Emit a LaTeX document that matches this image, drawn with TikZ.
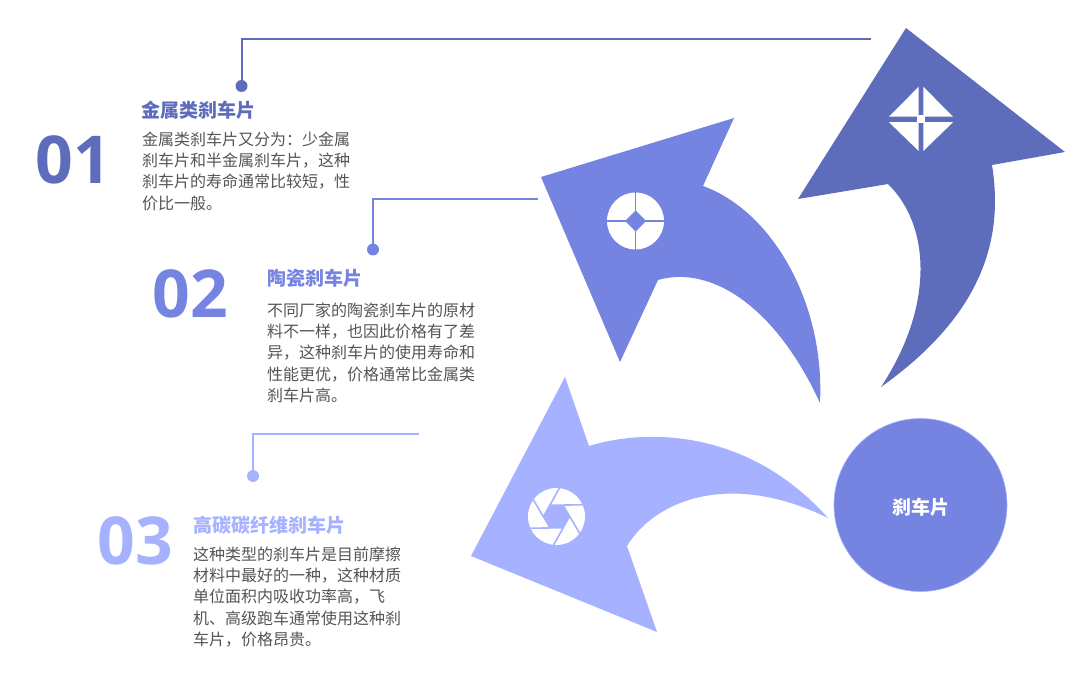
\documentclass[tikz,border=0pt]{standalone}
\usepackage{fontspec}
\setmainfont{Noto Sans CJK SC}
\newfontfamily\numfont{Open Sans}
\definecolor{cdark}{HTML}{5E6DBB}
\definecolor{cmid}{HTML}{7484E0}
\definecolor{clight}{HTML}{A6B2FF}
\definecolor{cbody}{HTML}{555555}
\tikzset{
  linkline/.style={line width=2pt},
  dotnode/.style={circle,inner sep=0pt,minimum size=12pt},
  numlabel/.style={anchor=center,inner sep=0pt,font=\numfont\bfseries\fontsize{66}{66}\selectfont},
  headlabel/.style={anchor=west,inner sep=0pt,font=\bfseries\fontsize{19}{22}\selectfont},
  bodytext/.style={anchor=north west,inner sep=0pt,align=left,text=cbody,font=\fontsize{16}{21.1}\selectfont},
}
\begin{document}
\begin{tikzpicture}[x=1pt,y=-1pt]
\useasboundingbox (0,0) rectangle (1084,676);
\fill[white] (0,0) rectangle (1084,676);
% arrows
\fill[cdark] (906,28) -- (1065,152) -- (992,165) .. controls (1004,240) and (982,315) .. (881,387)
  .. controls (935,305) and (930,225) .. (888,184) -- (798,199) -- cycle;
\fill[cmid] (734,118) -- (703,186) .. controls (770,210) and (825,300) .. (820,403)
  .. controls (775,305) and (710,265) .. (658,280) -- (620,362) -- (541,177) -- cycle;
\fill[clight] (565,377) -- (589,446) .. controls (640,430) and (745,425) .. (828,518)
  .. controls (730,470) and (655,500) .. (627,546) -- (657,632) -- (471,556) -- cycle;
% icon 1
\fill[white] (918.7,86.7) -- (889,116.7) -- (918.7,116.7) -- cycle;
\fill[white] (923.3,86.7) -- (953,116.7) -- (923.3,116.7) -- cycle;
\fill[white] (918.7,151) -- (889,122.2) -- (918.7,122.2) -- cycle;
\fill[white] (923.3,151) -- (953,122.2) -- (923.3,122.2) -- cycle;
\fill[white] (917,115.5) rectangle (925,122.7);
% icon 2
\fill[white] (635.5,221) circle (28.5);
\draw[cmid,line width=1.2pt] (635.5,190) -- (635.5,252) (604,221) -- (667,221);
\fill[cmid] (635.5,210.5) -- (646,221) -- (635.5,231.5) -- (625,221) -- cycle;
% icon 3
\fill[white] (556.5,516.5) circle (28.5);
\begin{scope}[shift={(556.5,516.5)}]
  \fill[clight] (0:13pt) -- (60:13pt) -- (120:13pt) -- (180:13pt) -- (240:13pt) -- (300:13pt) -- cycle;
  \foreach \a in {0,60,...,300}
    \draw[clight,line width=1.6pt] (\a:13pt) -- (\a-97:30pt);
\end{scope}
% centre circle
\node[circle,fill=cmid,draw=clight,line width=0.6pt,minimum size=173pt,inner sep=0pt,text=white,font=\bfseries\fontsize{19}{22}\selectfont] (hub) at (920.5,505) {\raisebox{-9pt}[0pt][0pt]{刹车片}};
% connectors
\coordinate (e1) at (871,39);
\coordinate (e2) at (538,199);
\coordinate (e3) at (419,434);
\node[dotnode,fill=cdark] (d1) at (241.5,86) {};
\node[dotnode,fill=cmid] (d2) at (373,249.5) {};
\node[dotnode,fill=clight] (d3) at (253,476) {};
\draw[linkline,cdark] (e1) -| (d1.center);
\draw[linkline,cmid] (e2) -| (d2.center);
\draw[linkline,clight] (e3) -| (d3.center);
% numbers
\node[numlabel,text=cdark] (n1) at (73,160) {01};
\node[numlabel,text=cmid] (n2) at (190,294) {02};
\node[numlabel,text=clight] (n3) at (135,541) {03};
% headings
\node[headlabel,text=cdark] (h1) at (141,110) {金属类刹车片};
\node[headlabel,text=cmid] (h2) at (267,278) {陶瓷刹车片};
\node[headlabel,text=clight] (h3) at (193,525) {高碳碳纤维刹车片};
% body
\node[bodytext] (b1) at (142,132) {金属类刹车片又分为：少金属\\刹车片和半金属刹车片，这种\\刹车片的寿命通常比较短，性\\价比一般。};
\node[bodytext] (b2) at (267,303) {不同厂家的陶瓷刹车片的原材\\料不一样，也因此价格有了差\\异，这种刹车片的使用寿命和\\性能更优，价格通常比金属类\\刹车片高。};
\node[bodytext] (b3) at (193,547) {这种类型的刹车片是目前摩擦\\材料中最好的一种，这种材质\\单位面积内吸收功率高，飞\\机、高级跑车通常使用这种刹\\车片，价格昂贵。};
\end{tikzpicture}
\end{document}
